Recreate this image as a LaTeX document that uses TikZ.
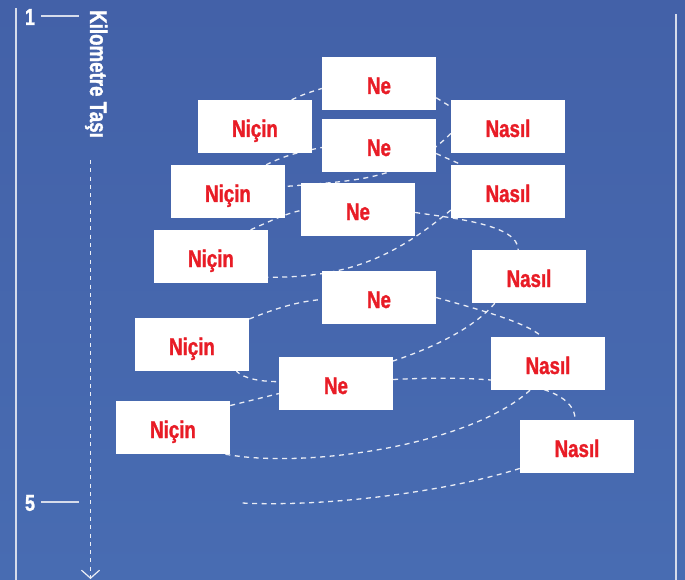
\documentclass[tikz,border=0pt]{standalone}
\usepackage{fontspec}
\newfontfamily\condfont{Liberation Sans Bold}[FakeStretch=0.78, FakeBold=1.2]
\usetikzlibrary{arrows.meta}
\definecolor{qblue}{RGB}{67,97,168}
\definecolor{qbluelow}{RGB}{72,108,178}
\definecolor{qred}{RGB}{232,28,38}
\definecolor{qline}{RGB}{214,220,235}
\pgfdeclarelayer{background}
\pgfdeclarelayer{links}
\pgfsetlayers{background,links,main}
\tikzstyle{qbox} = [rectangle, fill=white, minimum width=114pt, minimum height=53pt, inner sep=0pt, text height=21pt, text depth=0pt, text=qred, font=\condfont\fontsize{24}{24}\selectfont]
\tikzstyle{link} = [white!88!qblue, line width=1.3pt, dash pattern=on 5pt off 4.5pt]
\tikzstyle{ruler} = [qline, line width=1.5pt]
\tikzstyle{ticklabel} = [text=white, inner sep=0pt, font=\condfont\fontsize{23}{23}\selectfont]

\begin{document}
\begin{tikzpicture}[x=1pt, y=1pt]
\useasboundingbox (0,0) rectangle (685,-580);
\begin{pgfonlayer}{background}
\shade[top color=qblue, bottom color=qbluelow] (0,0) rectangle (685,-580);
\end{pgfonlayer}

% Ruler on both sides
\draw[ruler] (16,-8) -- (16,-580);
\draw[ruler] (676,-14) -- (676,-580);
\node (one) [ticklabel] at (30,-17) {1};
\node (five) [ticklabel] at (30,-503) {5};
\draw[ruler] (41,-16) -- (79,-16);
\draw[ruler] (41,-502) -- (79,-502);

% Milestone label and arrow
\node (kmstone) [ticklabel, rotate=-90, anchor=base west, font=\condfont\fontsize{24}{24}\selectfont] at (90,-10) {Kilometre Taşı};
\coordinate (downtop) at (90.5,-160);
\coordinate (downtip) at (90.5,-579);
\draw[white!90!qblue, line width=1.2pt, dash pattern=on 4pt off 4.3pt, -{Straight Barb[length=8pt, width=18pt, line width=1.2pt]}] (downtop) -- (downtip);

% Question boxes
\node (ne1) [qbox] at (379,-83.5) {Ne};
\node (nicin1) [qbox] at (255,-126.5) {Niçin};
\node (nasil1) [qbox] at (508,-126.5) {Nasıl};
\node (ne2) [qbox] at (379,-145.5) {Ne};
\node (nicin2) [qbox] at (228,-191.5) {Niçin};
\node (nasil2) [qbox] at (508,-191.5) {Nasıl};
\node (ne3) [qbox] at (358,-209.5) {Ne};
\node (nicin3) [qbox] at (211,-256.5) {Niçin};
\node (nasil3) [qbox] at (529,-276.5) {Nasıl};
\node (ne4) [qbox] at (379,-297.5) {Ne};
\node (nicin4) [qbox] at (192,-344.5) {Niçin};
\node (nasil4) [qbox] at (548,-363.5) {Nasıl};
\node (ne5) [qbox] at (336,-383.5) {Ne};
\node (nicin5) [qbox] at (173,-427.5) {Niçin};
\node (nasil5) [qbox] at (577,-446.5) {Nasıl};
\coordinate (tail) at (242,-503);

% Spiral behind the boxes
\begin{pgfonlayer}{links}
\draw[link] (nicin1.36) .. controls +(10,5) and +(-10,-3) .. (ne1.185);
\draw[link] (ne1.-14) -- (nasil1.161);
\draw[link] (nasil1.187) .. controls +(-48,-48) and +(68,6) .. (nicin2.5);
\draw[link] (nicin2.35) .. controls +(20,10) and +(-20,-4) .. (ne2.182);
\draw[link] (ne2.-8) -- (nasil2.150);
\draw[link] (nasil2.198) .. controls +(-60,-50) and +(76,0) .. (nicin3.-20);
\draw[link] (nicin3.34) .. controls +(18,8) and +(-15,-3) .. (ne3.181);
\draw[link] (ne3.-3) .. controls +(40,-6) and +(0,25) .. (nasil3.112);
\draw[link] (nasil3.218) .. controls +(-50,-60) and +(30,-30) .. (nicin4.-31);
\draw[link] (nicin4.24) .. controls +(25,10) and +(-25,-2) .. (ne4.182);
\draw[link] (ne4.east) .. controls +(35,-10) and +(-15,15) .. (nasil4.103);
\draw[link] (nasil4.236) .. controls +(-60,-55) and +(80,-15) .. (nicin5.-27);
\draw[link] (nicin5.21) -- (ne5.190);
\draw[link] (ne5.4) .. controls +(60,3) and +(0,45) .. (nasil5.94);
\draw[link] (nasil5.201) .. controls +(-80,-25) and +(80,-4) .. (tail);
\end{pgfonlayer}
\end{tikzpicture}
\end{document}
